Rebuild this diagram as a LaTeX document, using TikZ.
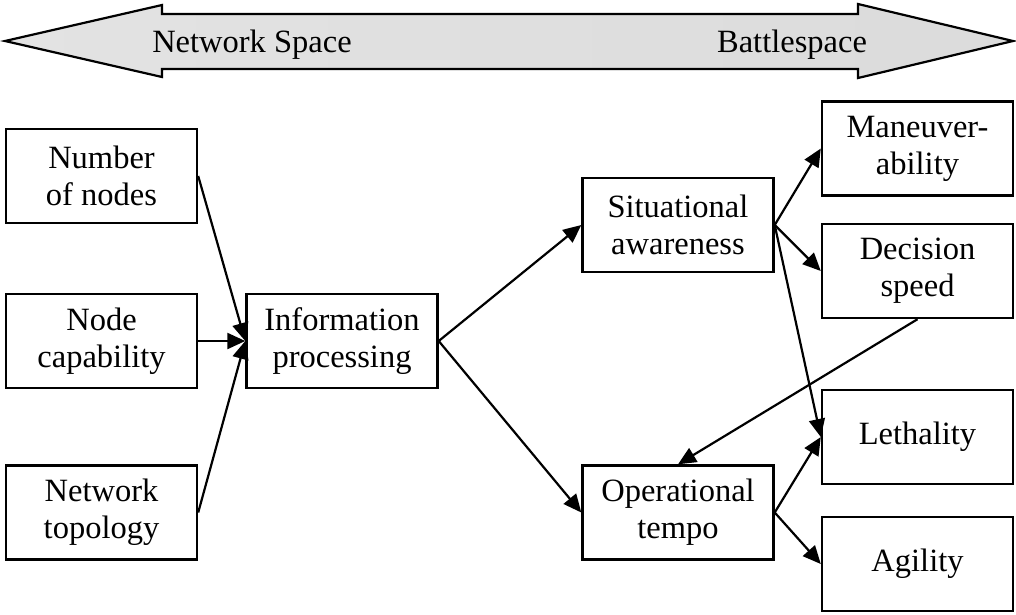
\documentclass[tikz,border=0pt]{standalone}
\usepackage{fontspec}
\setmainfont{Liberation Serif}
\usetikzlibrary{arrows.meta}
\begin{document}
\begin{tikzpicture}[x=1pt,y=-1pt,
  box/.style={draw=black,line width=2.4pt,fill=white,rectangle,
    minimum width=191pt,minimum height=94pt,inner sep=2pt,align=center,
    font=\fontsize{32.5}{37}\selectfont},
  label/.style={font=\fontsize{32.5}{37}\selectfont,anchor=base,inner sep=0pt},
  link/.style={line width=2.2pt,-{Triangle[length=18pt,width=16pt]}}]
\useasboundingbox (0,0) rectangle (1016,614);

% double-headed banner across the top
\draw[line width=2.2pt,line join=miter,left color=gray!22,middle color=white,right color=gray!28,shading angle=90]
  (5,41) -- (162,5) -- (162,14) -- (858,14) -- (858,4) -- (1013,41)
  -- (858,78) -- (858,69) -- (162,69) -- (162,77) -- cycle;
\node[label] (netspace) at (252,52) {Network Space};
\node[label] (battle) at (792,52) {Battlespace};

% boxes
\node[box] (nn) at (101.5,176)   {Number\\of nodes};
\node[box] (nc) at (101.5,341)   {Node\\capability};
\node[box] (nt) at (101.5,512.5) {Network\\topology};
\node[box] (ip) at (342,341)     {Information\\processing};
\node[box] (sa) at (678,225)     {Situational\\awareness};
\node[box] (ot) at (678,512.5)   {Operational\\tempo};
\node[box] (mv) at (917.5,148.5) {Maneuver-\\ability};
\node[box] (ds) at (917.5,271)   {Decision\\speed};
\node[box] (le) at (917.5,437)   {Lethality};
\node[box] (ag) at (917.5,564)   {Agility};

% connectors
\draw[link] (nn.east) -- (ip.west);
\draw[link] (nc.east) -- (ip.west);
\draw[link] (nt.east) -- (ip.west);
\draw[link] (ip.east) -- (sa.west);
\draw[link] (ip.east) -- (ot.west);
\draw[link] (sa.east) -- (mv.west);
\draw[link] (sa.east) -- (ds.west);
\draw[link] (sa.east) -- (le.west);
\draw[link] (ot.east) -- (le.west);
\draw[link] (ot.east) -- (ag.west);
\draw[link] (ds.south) -- (ot.north);
\end{tikzpicture}
\end{document}
